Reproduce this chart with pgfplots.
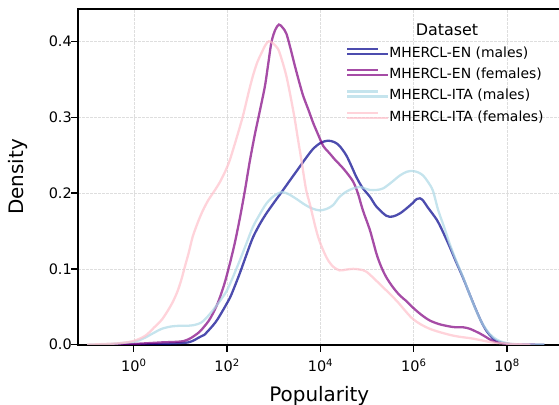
\documentclass[border=0pt]{standalone}
\usepackage{fontspec}
\setmainfont{DejaVu Sans}
\usepackage{pgfplots}
\pgfplotsset{compat=1.18}

\definecolor{enm}{RGB}{0,0,139}
\definecolor{enf}{RGB}{128,0,128}
\definecolor{itm}{RGB}{173,216,230}
\definecolor{itf}{RGB}{255,192,203}
\definecolor{gridc}{RGB}{222,222,222}

\begin{document}
\begin{tikzpicture}
\begin{axis}[
  scale only axis,
  width=482bp, height=335.7bp,
  xmin=-1.19, xmax=9.14,
  ymin=0, ymax=0.4426,
  xtick={0,2,4,6,8},
  xticklabels={10\textsuperscript{0},10\textsuperscript{2},10\textsuperscript{4},10\textsuperscript{6},10\textsuperscript{8}},
  ytick={0,0.1,0.2,0.3,0.4},
  yticklabels={0.0,0.1,0.2,0.3,0.4},
  tick pos=left,
  tick align=outside,
  major tick length=7bp,
  tick style={line width=1.3bp, black},
  axis line style={line width=1.6bp},
  grid=major,
  major grid style={gridc, line width=0.6bp, dash pattern=on 2.5bp off 1.5bp},
  tick label style={font=\fontsize{14.5}{17}\selectfont},
  xticklabel style={yshift=-4bp},
  yticklabel style={xshift=4bp},
  xlabel={Popularity},
  ylabel={Density},
  label style={font=\fontsize{20}{24}\selectfont},
  xlabel style={at={(axis description cs:0.5,0)}, anchor=base, inner sep=0pt, yshift=-57bp},
  ylabel style={at={([xshift=-60bp]axis description cs:0,0.5)}, anchor=center, inner sep=0pt},
  legend style={at={(axis description cs:0.5554,0.886)}, anchor=north west,
    draw=none, fill=none, inner sep=0pt, outer sep=0pt, row sep=7.8bp,
    font=\fontsize{14}{16}\selectfont,
    nodes={inner sep=0pt, text height=10bp, text depth=3.5bp}},
  legend cell align=left,
  legend image code/.code={\path (0bp,0bp) -- (41bp,0bp);\draw[#1] (0bp,5bp) -- (31bp,5bp);},
  every axis plot/.append style={line width=2.3bp, draw opacity=0.7, smooth, tension=0.5},
]

% MHERCL-EN (males)
\addplot[enm] coordinates {
(-0.5,0) (0.0,0.000) (0.58,0.001) (1.16,0.003) (1.41,0.010) (1.51,0.013) (1.69,0.025)
(1.8,0.034) (1.99,0.054) (2.09,0.066) (2.27,0.094) (2.41,0.118) (2.55,0.141) (2.7,0.159)
(2.84,0.173) (3.0,0.187) (3.13,0.198) (3.2,0.204) (3.35,0.217) (3.49,0.229) (3.56,0.235)
(3.7,0.247) (3.84,0.258) (4.0,0.266) (4.16,0.269) (4.3,0.267) (4.41,0.262) (4.55,0.250)
(4.66,0.236) (4.77,0.221) (4.9,0.207) (5.06,0.195) (5.2,0.182) (5.41,0.170) (5.55,0.169)
(5.7,0.173) (5.85,0.180) (5.98,0.187) (6.06,0.192) (6.13,0.193) (6.2,0.190) (6.3,0.181)
(6.49,0.165) (6.6,0.152) (6.77,0.129) (6.9,0.110) (7.05,0.089) (7.2,0.066) (7.34,0.045)
(7.45,0.030) (7.56,0.018) (7.67,0.010) (7.77,0.005) (7.99,0.001) (8.3,0.000) (8.8,0.000)
};
\addlegendentry{MHERCL-EN (males)}

% MHERCL-EN (females)
\addplot[enf] coordinates {
(-0.5,0.000) (0.0,0.001) (0.58,0.003) (1.08,0.005) (1.37,0.015) (1.55,0.027) (1.65,0.036)
(1.8,0.055) (1.94,0.080) (2.05,0.105) (2.16,0.133) (2.27,0.166) (2.38,0.203) (2.48,0.240)
(2.59,0.276) (2.7,0.308) (2.81,0.341) (2.88,0.370) (2.95,0.399) (3.03,0.415) (3.11,0.422)
(3.19,0.418) (3.27,0.410) (3.36,0.390) (3.45,0.368) (3.55,0.345) (3.63,0.328) (3.74,0.310)
(3.84,0.293) (3.95,0.277) (4.06,0.262) (4.2,0.252) (4.31,0.244) (4.45,0.235) (4.56,0.227)
(4.7,0.215) (4.8,0.200) (4.91,0.177) (5.06,0.151) (5.2,0.120) (5.3,0.103) (5.41,0.089)
(5.55,0.076) (5.7,0.065) (5.85,0.057) (5.98,0.049) (6.15,0.040) (6.34,0.032) (6.55,0.027)
(6.77,0.024) (6.9,0.023) (7.05,0.023) (7.2,0.021) (7.41,0.015) (7.55,0.010) (7.69,0.005)
(7.9,0.002) (8.2,0.000) (8.6,0.000)
};
\addlegendentry{MHERCL-EN (females)}

% MHERCL-ITA (males)
\addplot[itm] coordinates {
(-1.0,0.000) (-0.5,0.001) (0.0,0.004) (0.2,0.008) (0.44,0.016) (0.6,0.021) (0.8,0.024)
(1.0,0.025) (1.16,0.025) (1.3,0.026) (1.44,0.029) (1.55,0.035) (1.69,0.045) (1.85,0.058)
(1.99,0.071) (2.13,0.090) (2.27,0.111) (2.41,0.133) (2.55,0.155) (2.7,0.172) (2.84,0.186)
(3.0,0.196) (3.16,0.201) (3.3,0.199) (3.49,0.192) (3.63,0.186) (3.77,0.181) (3.9,0.178)
(3.99,0.177) (4.13,0.179) (4.27,0.184) (4.41,0.195) (4.56,0.202) (4.7,0.206) (4.84,0.208)
(4.95,0.206) (5.06,0.204) (5.2,0.204) (5.34,0.206) (5.5,0.213) (5.7,0.223) (5.85,0.228)
(5.98,0.229) (6.1,0.227) (6.2,0.223) (6.3,0.215) (6.41,0.203) (6.52,0.178) (6.65,0.155)
(6.77,0.133) (6.9,0.112) (7.05,0.090) (7.27,0.055) (7.45,0.030) (7.63,0.014) (7.8,0.006)
(8.0,0.002) (8.3,0.000) (8.8,0.000)
};
\addlegendentry{MHERCL-ITA (males)}

% MHERCL-ITA (females)
\addplot[itf] coordinates {
(-1.0,0.000) (-0.6,0.001) (-0.3,0.002) (0.0,0.005) (0.25,0.012) (0.44,0.023) (0.6,0.033)
(0.73,0.045) (0.84,0.057) (0.94,0.071) (1.02,0.086) (1.09,0.102) (1.18,0.122) (1.26,0.142)
(1.37,0.161) (1.48,0.177) (1.6,0.191) (1.73,0.203) (1.85,0.215) (1.97,0.230) (2.06,0.244)
(2.2,0.272) (2.34,0.302) (2.45,0.330) (2.55,0.354) (2.65,0.373) (2.74,0.385) (2.82,0.395)
(2.89,0.400) (2.97,0.398) (3.09,0.390) (3.18,0.374) (3.27,0.354) (3.36,0.327) (3.45,0.297)
(3.52,0.270) (3.59,0.244) (3.69,0.205) (3.77,0.186) (3.95,0.142) (4.13,0.115) (4.27,0.103)
(4.41,0.098) (4.55,0.099) (4.7,0.100) (4.85,0.099) (4.99,0.096) (5.27,0.080) (5.63,0.058)
(5.98,0.034) (6.34,0.021) (6.84,0.012) (7.27,0.008) (7.69,0.003) (8.1,0.001) (8.5,0.000)
};
\addlegendentry{MHERCL-ITA (females)}

\node[font=\fontsize{16}{19}\selectfont, inner sep=0pt] at (axis description cs:0.765,0.9395) {Dataset};
\end{axis}
\pgfresetboundingbox
\path[use as bounding box] (-78.3bp,-60.3bp) rectangle (480.7bp,335.7bp+9bp);
\end{tikzpicture}
\end{document}
